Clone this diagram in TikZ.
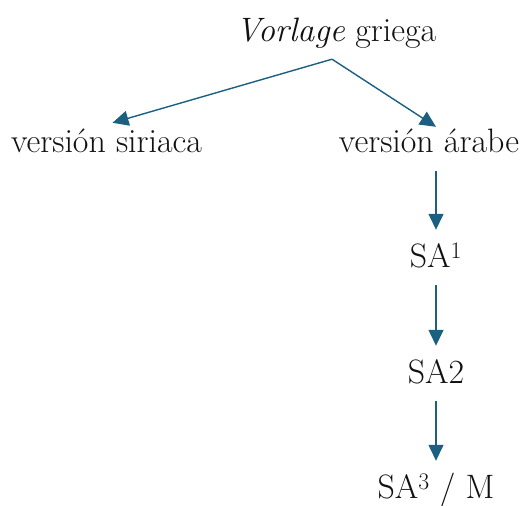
\documentclass[tikz,border=0pt]{standalone}
\usepackage{tikz}
\usepackage{xcolor}
\usetikzlibrary{arrows.meta}
\definecolor{linkColorA}{HTML}{1B6080}
\definecolor{linkColorB}{HTML}{1B6080}
\definecolor{linkColorC}{HTML}{1B6080}
\definecolor{linkColorD}{HTML}{1B6080}
\definecolor{linkColorE}{HTML}{1B6080}
\definecolor{labelTextColor}{HTML}{111111}
\def\textRoot{\textit{Vorlage} griega}
\def\textLeft{versi\'on siriaca}
\def\textRight{versi\'on \'arabe}
\def\textSaA{SA\textsuperscript{1}}
\def\textSaB{SA2}
\def\textSaC{SA\textsuperscript{3} / M}
\tikzset{
  label text/.style={anchor=base, inner xsep=0pt, inner ysep=15bp,
    text height=22bp, text depth=3bp, text=labelTextColor,
    font=\fontsize{34}{40}\selectfont},
  link/.style={line width=1.4bp, -{Triangle[width=15bp,length=16bp]}}
}
\begin{document}
\begin{tikzpicture}[x=1bp,y=-1bp]
\useasboundingbox (0, 0) rectangle (521, 506);

% label layer
\begin{scope}
\node[label text] (root) at (336, 42) {\textRoot};
\node[label text] (left) at (106.5, 153) {\textLeft};
\node[label text] (right) at (429, 153) {\textRight};
\node[label text] (saA) at (436, 267) {\textSaA};
\node[label text] (saB) at (436, 383) {\textSaB};
\node[label text] (saC) at (436, 498) {\textSaC};
\end{scope}

% link layer
\begin{scope}
\coordinate (apex) at ([xshift=-4bp, yshift=1bp]root.south);
\draw[link, color=linkColorA] (apex) -- ([xshift=6bp, yshift=-7bp]left.north);
\draw[link, color=linkColorB] (apex) -- ([xshift=7bp, yshift=-11bp]right.north);
\draw[link, color=linkColorC] (right.south -| saA.north) -- (saA.north);
\draw[link, color=linkColorD] (saA.south) -- (saB.north);
\draw[link, color=linkColorE] (saB.south) -- (saC.north);
\end{scope}

\end{tikzpicture}
\end{document}
